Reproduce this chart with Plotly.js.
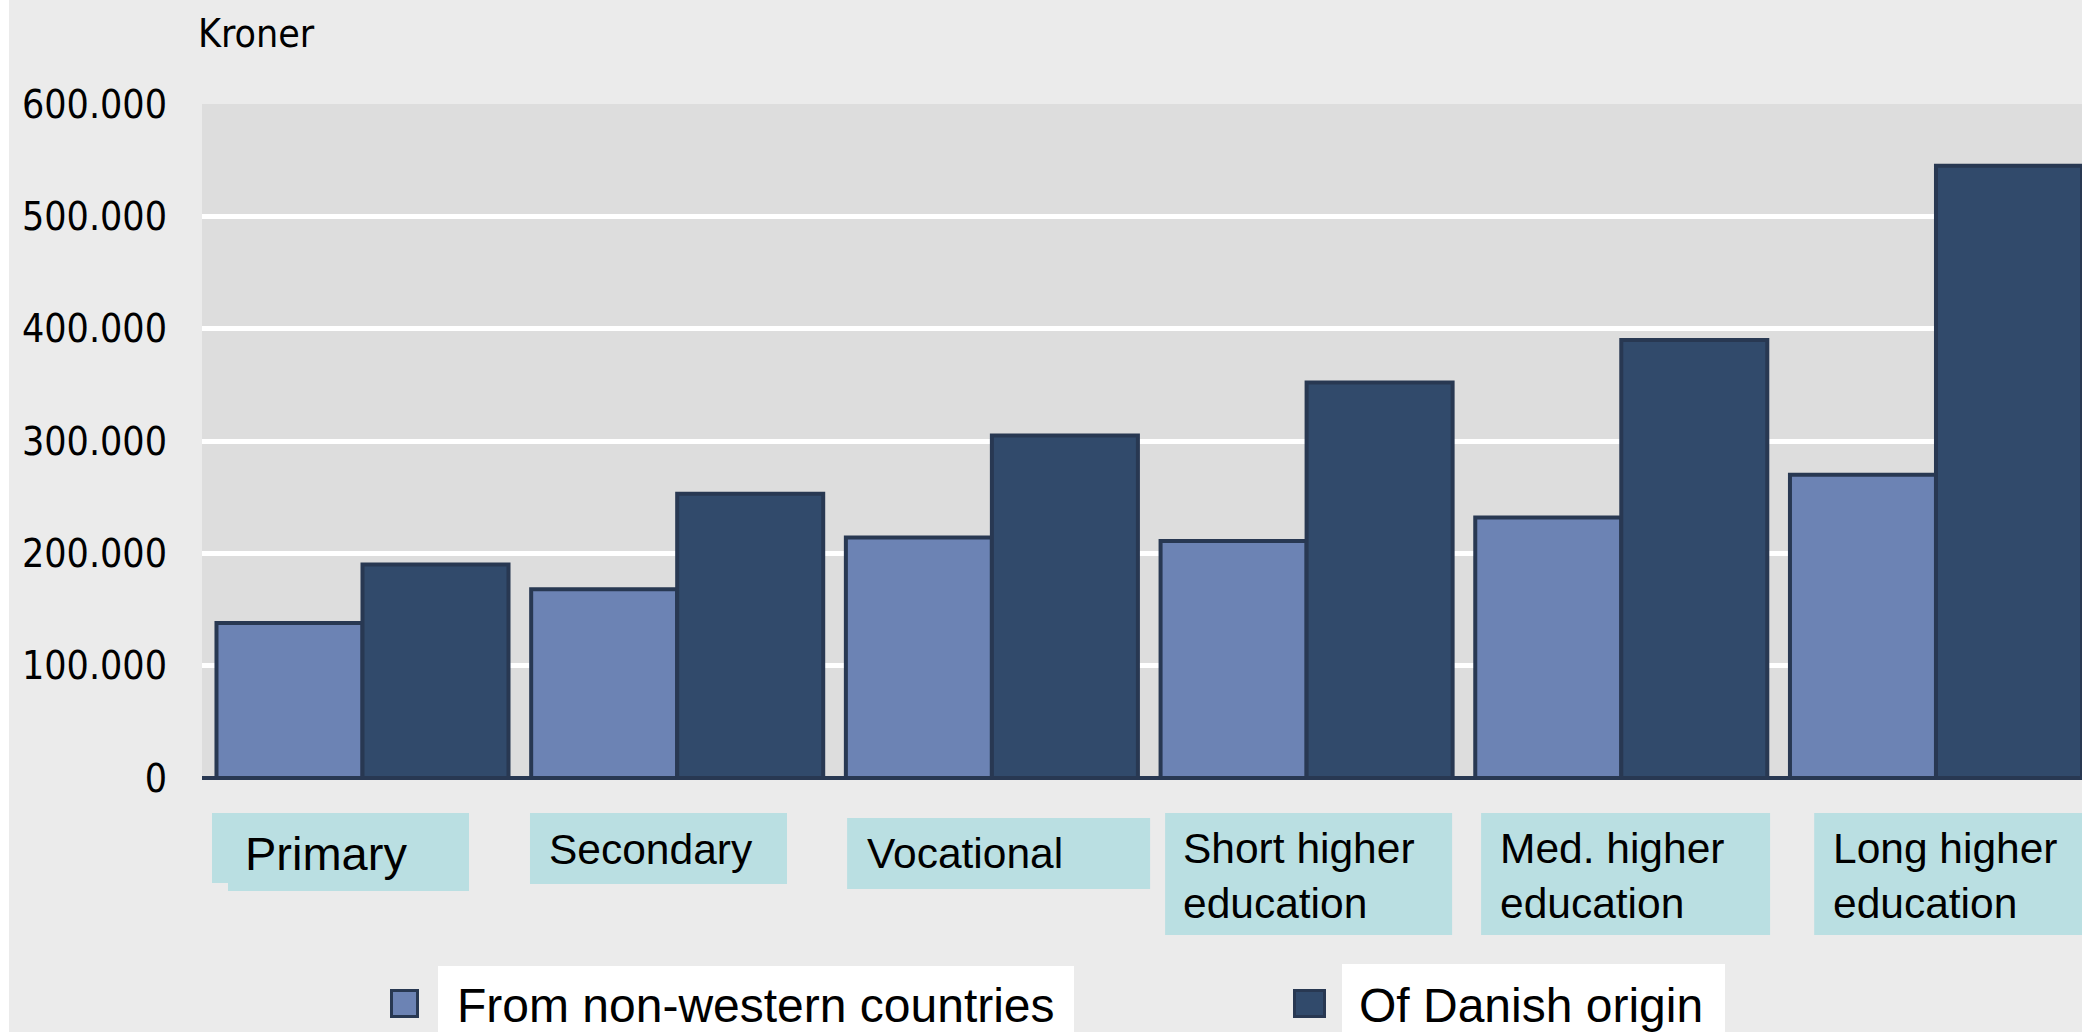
<!DOCTYPE html>
<html><head><meta charset="utf-8">
<script src="https://cdn.plot.ly/plotly-3.0.1.min.js"></script>
<style>html,body{margin:0;padding:0;background:#ebebeb;overflow:hidden}#chart{width:2082px;height:1032px}</style>
</head><body><div id="chart"></div>
<script>
// ---- data ----
const categories = ["Primary","Secondary","Vocational","Short higher education","Med. higher education","Long higher education"];
const categoryLabels = ["Primary","Secondary","Vocational","Short higher<br>education","Med. higher<br>education","Long higher<br>education"];
const seriesNames = ["From non-western countries","Of Danish origin"];
const nonWestern = [138000,168000,214000,211000,232000,270000];
const danish = [190000,253000,305000,352000,390000,545000];
const yTickVals = [0,100000,200000,300000,400000,500000,600000];
const yUnit = "Kroner";

// ---- geometry / style ----
const W=2082,H=1032,L=202,R=0,T=104,B=254;
const PW=W-L-R, PH=H-T-B;
const fx = px => (px-L)/PW;
const fy = py => (T+PH-py)/PH;
const lightC='#6c83b4', darkC='#314a6b', edgeC='#283852', boxC='#badfe2';
const narrow='DejaVu Sans Condensed, sans-serif';
const sans='Liberation Sans, Arial, sans-serif';

const traces=[
 {type:'bar',name:seriesNames[0],x:categories,y:nonWestern,marker:{color:lightC,line:{color:edgeC,width:4}},hoverinfo:'y'},
 {type:'bar',name:seriesNames[1],x:categories,y:danish,marker:{color:darkC,line:{color:edgeC,width:4}},hoverinfo:'y'}
];

// label boxes: [x0,x1,ytop,ybottom] in px offsets relative to category centre
const boxSpecs=[
 [[-150.5,106.5,813,883],[-134.5,106.5,883,891]],
 [[-147.2,109.8,813,884]],
 [[-144.8,158.2,818,889]],
 [[-141.5,145.5,813,935]],
 [[-140.2,148.8,813,935]],
 [[-121.8,170,813,935]]
];
const textShift=[-119.5,-130,-127,-125.5,-123,-105];
const textCenterY=[853.7,850,854,875.5,875.5,875.5];

const shapes=[];
const annotations=[];
// white strip at left edge
shapes.push({type:'rect',xref:'paper',yref:'paper',x0:fx(0),x1:fx(9),y0:fy(H+5),y1:fy(-5),fillcolor:'#ffffff',line:{width:0},layer:'above'});
boxSpecs.forEach((specs,i)=>{
  specs.forEach(s=>{
    shapes.push({type:'rect',xref:'x',xsizemode:'pixel',xanchor:i,x0:s[0],x1:s[1],yref:'paper',y0:fy(s[3]),y1:fy(s[2]),fillcolor:boxC,line:{width:0},layer:'above'});
  });
  annotations.push({xref:'x',x:i,xanchor:'left',xshift:textShift[i],yref:'paper',y:fy(textCenterY[i]),yanchor:'middle',
    text:categoryLabels[i],showarrow:false,align:'left',font:{family:sans,size:i===0?47:42.5,color:'#000'}});
});
// legend
const leg=[
 {mk:[390,419,989,1018],box:[438,1074,966,1045],tx:455,col:lightC},
 {mk:[1293,1326,989,1018],box:[1342,1725,964,1045],tx:1357,col:darkC}
];
leg.forEach((g,i)=>{
  shapes.push({type:'rect',xref:'paper',yref:'paper',x0:fx(g.box[0]),x1:fx(g.box[1]),y0:fy(g.box[3]),y1:fy(g.box[2]),fillcolor:'#ffffff',line:{width:0},layer:'above'});
  shapes.push({type:'rect',xref:'paper',yref:'paper',x0:fx(g.mk[0]+1.5),x1:fx(g.mk[1]-1.5),y0:fy(g.mk[3]-1.5),y1:fy(g.mk[2]+1.5),fillcolor:g.col,line:{color:edgeC,width:3},layer:'above'});
  annotations.push({xref:'paper',x:fx(g.tx),xanchor:'left',yref:'paper',y:fy(1006),yanchor:'middle',text:seriesNames[i],showarrow:false,font:{family:sans,size:48,color:'#000'}});
});
annotations.push({xref:'paper',x:fx(196),xanchor:'left',yref:'paper',y:fy(33.5),yanchor:'middle',text:yUnit,showarrow:false,font:{family:narrow,size:39,color:'#000'}});

const layout={
 width:W,height:H,margin:{l:L,r:R,t:T,b:B,pad:0},
 paper_bgcolor:'#ebebeb',plot_bgcolor:'#dddddd',
 separators:',.',
 showlegend:false,barmode:'group',bargap:0.072,bargroupgap:0,
 xaxis:{type:'category',range:[-0.51,5.464],showticklabels:false,showgrid:false,zeroline:false,showline:false,ticks:'',fixedrange:true},
 yaxis:{range:[0,600000],tickvals:yTickVals,tickformat:',d',showgrid:true,gridcolor:'#ffffff',gridwidth:5,
   zeroline:true,zerolinecolor:edgeC,zerolinewidth:4,showline:false,ticks:'',ticklabelstandoff:34,
   tickfont:{family:narrow,size:39,color:'#000'},fixedrange:true},
 shapes:shapes,annotations:annotations
};
Plotly.newPlot('chart',traces,layout,{displayModeBar:false,staticPlot:true});
</script></body></html>
